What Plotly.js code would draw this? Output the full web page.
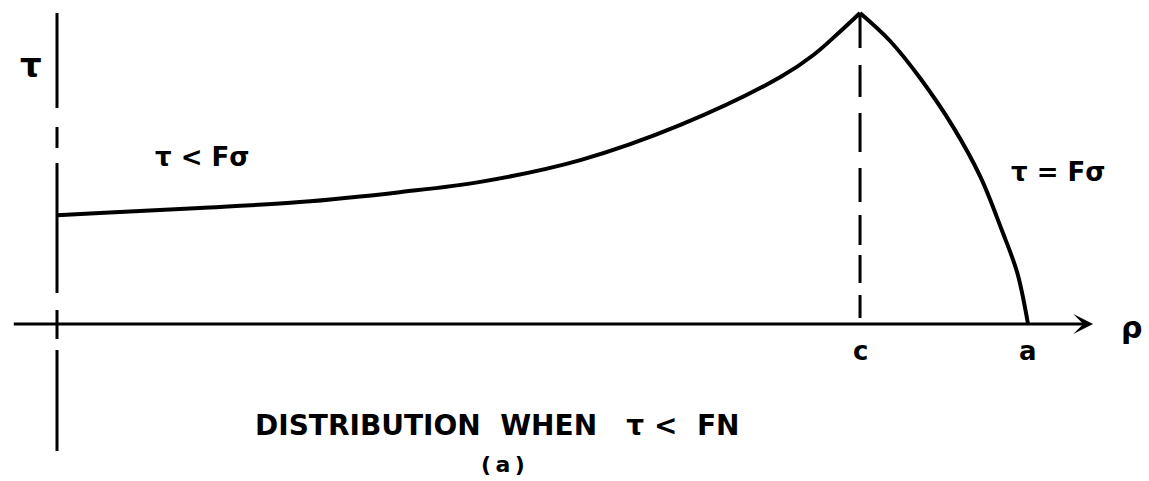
<!DOCTYPE html>
<html>
<head>
<meta charset="utf-8">
<script src="https://cdn.plot.ly/plotly-3.0.1.min.js"></script>
<style>
  html, body { margin: 0; padding: 0; background: #fff; }
  #chart { width: 1149px; height: 481px; }
</style>
</head>
<body>
<div id="chart"></div>
<script>
// Shear stress distribution over the contact radius (ρ normalised by a, τ by its peak)
// Inner region, τ < Fσ (no slip)
const innerRho = [0, 0.044, 0.147, 0.250, 0.353, 0.436, 0.539, 0.642, 0.745, 0.779, 0.806, 0.827];
const innerTau = [0.350, 0.357, 0.373, 0.392, 0.424, 0.457, 0.527, 0.640, 0.794, 0.865, 0.939, 1.000];
// Outer region, τ = Fσ (slip)
const outerRho = [0.827, 0.858, 0.889, 0.923, 0.951, 0.973, 0.989, 1.000];
const outerTau = [1.000, 0.910, 0.790, 0.633, 0.473, 0.302, 0.164, 0.000];

// Marked radii on the ρ axis
const radiusNames = ['c', 'a'];
const radiusValues = [0.827, 1.000];

const ink = '#000000';
const font = 'DejaVu Sans, Liberation Sans, sans-serif';

function label(x, y, text, size) {
  return {
    x: x, y: y, xref: 'paper', yref: 'paper', text: text, showarrow: false,
    xanchor: 'center', yanchor: 'middle',
    font: { family: font, size: size, color: ink, weight: 'bold' }
  };
}

const traces = [
  {
    x: innerRho, y: innerTau, mode: 'lines', type: 'scatter',
    line: { color: ink, width: 4, shape: 'spline', smoothing: 1.0 },
    hoverinfo: 'skip', showlegend: false
  },
  {
    x: outerRho, y: outerTau, mode: 'lines', type: 'scatter',
    line: { color: ink, width: 4, shape: 'spline', smoothing: 1.0 },
    hoverinfo: 'skip', showlegend: false
  }
];

const shapes = [
  // τ axis, hand-drawn broken line
  {
    type: 'line', xref: 'x', yref: 'y', x0: 0, x1: 0, y0: 1.0, y1: -0.408,
    line: { color: ink, width: 3, dash: '95px,19px,21px,15px,130px,17px,29px,11px,101px' }
  },
  // boundary between stick and slip regions at ρ = c
  {
    type: 'line', xref: 'x', yref: 'y', x0: radiusValues[0], x1: radiusValues[0], y0: 1.0, y1: 0.019,
    line: { color: ink, width: 3, dash: '35px,17px,32px,16px,39px,16px,34px,13px,30px,10px,28px,12px,23px' }
  }
];

const annotations = [
  // ρ axis with arrow
  {
    x: 1.067, y: 0, ax: -0.046, ay: 0, xref: 'x', yref: 'y', axref: 'x', ayref: 'y',
    text: '', showarrow: true, arrowhead: 3, arrowwidth: 3, arrowsize: 1.1, arrowcolor: ink
  },
  label(0.027, 0.865, 'τ', 34),
  label(0.176, 0.674, 'τ < Fσ', 26),
  label(0.921, 0.642, 'τ = Fσ', 26),
  label(0.985, 0.320, 'ρ', 30),
  label(0.4326, 0.1164, 'DISTRIBUTION\u00A0\u00A0WHEN\u00A0\u00A0\u00A0τ\u00A0<\u00A0\u00A0FN', 28),
  label(0.4378, 0.0353, '(\u2009a\u2009)', 22)
];

radiusNames.forEach((name, i) => {
  annotations.push({
    x: radiusValues[i], y: -0.087, xref: 'x', yref: 'y', text: name, showarrow: false,
    xanchor: 'center', yanchor: 'middle',
    font: { family: font, size: 26, color: ink, weight: 'bold' }
  });
});

const layout = {
  width: 1149, height: 481,
  margin: { l: 0, r: 0, t: 0, b: 0, pad: 0 },
  paper_bgcolor: '#ffffff', plot_bgcolor: '#ffffff',
  xaxis: { range: [-0.0587, 1.1246], visible: false, fixedrange: true },
  yaxis: { range: [-0.5048, 1.0418], visible: false, fixedrange: true },
  shapes: shapes,
  annotations: annotations,
  showlegend: false
};

Plotly.newPlot('chart', traces, layout, { displayModeBar: false, staticPlot: true });
</script>
</body>
</html>
